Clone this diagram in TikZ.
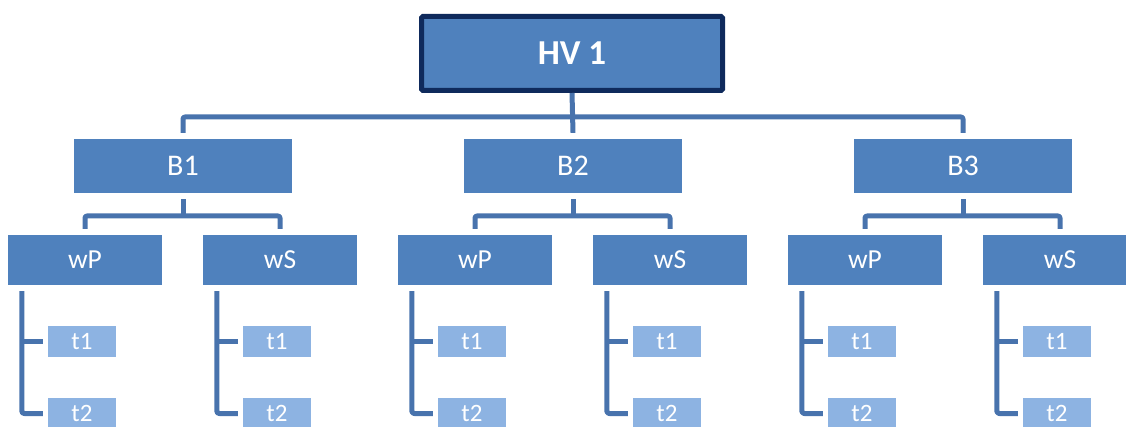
\documentclass[tikz,border=0pt]{standalone}
\usepackage{fontspec}
\setmainfont{Carlito}
\usetikzlibrary{calc}
\definecolor{boxblue}{HTML}{4F81BD}
\definecolor{navy}{HTML}{0F2A5C}
\definecolor{connblue}{HTML}{4873AD}
\definecolor{lightblue}{HTML}{8DB3E2}
\begin{document}
\begin{tikzpicture}[x=1pt,y=-1pt,
  topbox/.style={draw=navy, line width=5pt, fill=boxblue, rounded corners=1.5pt,
    minimum width=301pt, minimum height=74pt, inner sep=0pt, text=white,
    font=\fontsize{35}{40}\selectfont\bfseries},
  bbox/.style={fill=boxblue, minimum width=218pt, minimum height=54pt, inner sep=0pt,
    text=white, font=\fontsize{30}{36}\selectfont},
  wbox/.style={fill=boxblue, minimum width=154pt, minimum height=50pt, inner sep=0pt,
    text=white, font=\fontsize{27.5}{32}\selectfont},
  tbox/.style={fill=lightblue, minimum width=68pt, minimum height=31pt, inner sep=0pt,
    text=white, font=\fontsize{25}{30}\selectfont},
  conn/.style={draw=connblue, line width=5pt, line join=round}]
\clip (0,0) rectangle (1126,427);
\node[topbox] (hv) at (572,53.5) {HV 1};
\coordinate (bus) at (572,117);
\foreach \i/\o in {1/8,2/398,3/788}{
  \node[bbox] (b\i) at (\o+175,166) {B\i};
  \node[wbox] (p\i) at (\o+77,260) {wP};
  \node[wbox] (s\i) at (\o+272,260) {wS};
  \node[tbox] (p\i-1) at (\o+74,341.5) {t1};
  \node[tbox] (p\i-2) at (\o+74,413.5) {t2};
  \node[tbox] (s\i-1) at (\o+269,341.5) {t1};
  \node[tbox] (s\i-2) at (\o+269,413.5) {t2};
  \coordinate (m\i) at (\o+175,216);
  \draw[conn] ([yshift=-6pt]b\i.south) -- (m\i);
  \draw[conn, rounded corners=2pt] ([yshift=6pt]p\i.north) |- (m\i) -| ([yshift=6pt]s\i.north);
  \foreach \w in {p,s}{
    \coordinate (\w\i v) at ($(\w\i.south west)+(14,6)$);
    \draw[conn, rounded corners=2.5pt] (\w\i v) |- ([xshift=-5pt]\w\i-2.west);
    \draw[conn] (\w\i v |- \w\i-1.west) -- ([xshift=-5pt]\w\i-1.west);
  }
}
\draw[conn] (hv.south) -- ([yshift=6pt]b2.north);
\draw[conn, rounded corners=2pt] ([yshift=6pt]b1.north) |- (bus) -| ([yshift=6pt]b3.north);
\end{tikzpicture}
\end{document}
